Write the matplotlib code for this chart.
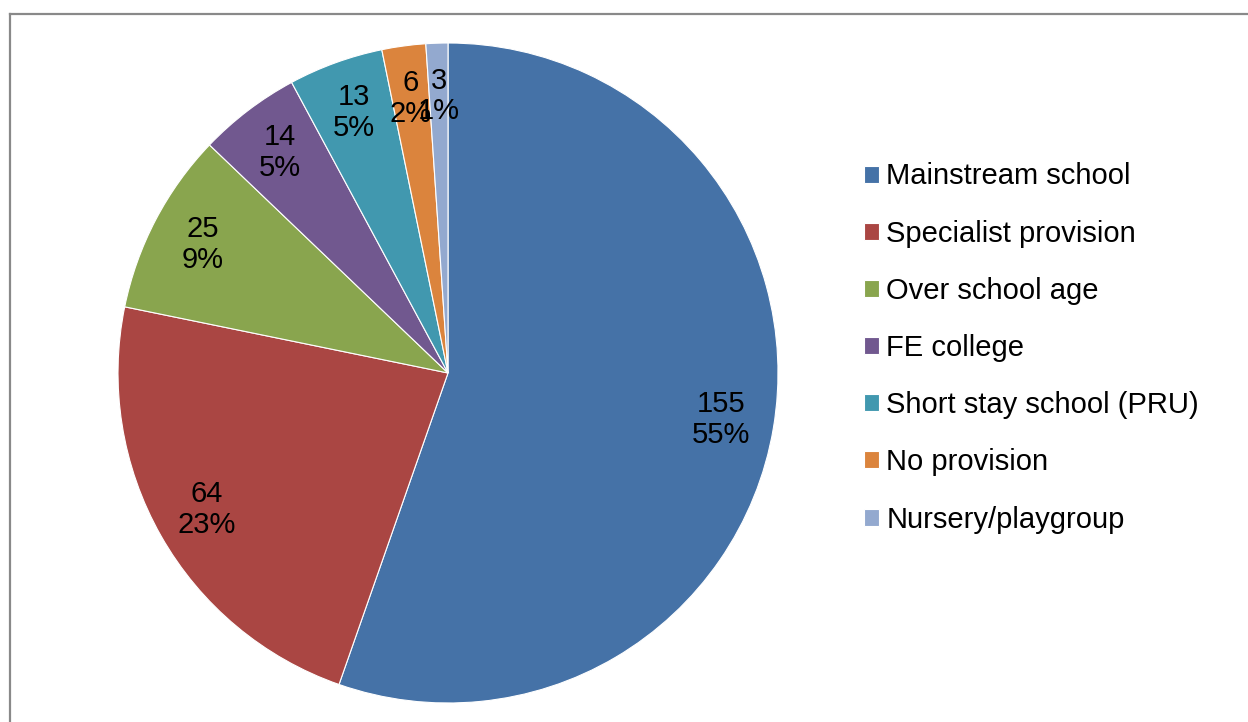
import matplotlib
matplotlib.use("Agg")
import matplotlib.pyplot as plt
from matplotlib.lines import Line2D

plt.rcParams['font.family'] = ['Liberation Sans', 'DejaVu Sans']

categories = ["Mainstream school", "Specialist provision", "Over school age",
              "FE college", "Short stay school (PRU)", "No provision",
              "Nursery/playgroup"]
counts = [155, 64, 25, 14, 13, 6, 3]
colors = ["#4572A7", "#AA4643", "#89A54E", "#71588F", "#4198AF", "#DB843D", "#93A9CF"]

total = sum(counts)

W, H = 1248, 722
fig = plt.figure(figsize=(W / 100, H / 100), dpi=100)

# pie centred at (448, 373) px with radius 330 px
cx, cy, r = 448, 373, 330
ax = fig.add_axes([(cx - r) / W, (H - cy - r) / H, 2 * r / W, 2 * r / H])


def fmt(p):
    return f"{round(p * total / 100)}\n{p:.0f}%"


wedges, _, autotexts = ax.pie(
    counts, colors=colors, startangle=90, counterclock=False,
    autopct=fmt, pctdistance=0.84,
    wedgeprops=dict(edgecolor="white", linewidth=0.8),
    textprops=dict(fontsize=21, color="black", linespacing=1.12),
)
ax.set_xlim(-1, 1)
ax.set_ylim(-1, 1)
ax.set_aspect("equal")
ax.axis("off")

fig.legend(wedges, categories, loc="center left",
           bbox_to_anchor=(864 / W, 1 - 348 / H), frameon=False,
           fontsize=21, handlelength=0.52, handleheight=0.52,
           handletextpad=0.24, labelspacing=1.0, borderpad=0, borderaxespad=0)

# chart-area border on top and left
fig.add_artist(Line2D([9.5 / W, 9.5 / W], [0, 1 - 13.5 / H], transform=fig.transFigure,
                      color="#898989", linewidth=1.6))
fig.add_artist(Line2D([9.5 / W, 1], [1 - 13.5 / H, 1 - 13.5 / H], transform=fig.transFigure,
                      color="#898989", linewidth=1.6))

fig.savefig("out.png", dpi=100, facecolor="white")
